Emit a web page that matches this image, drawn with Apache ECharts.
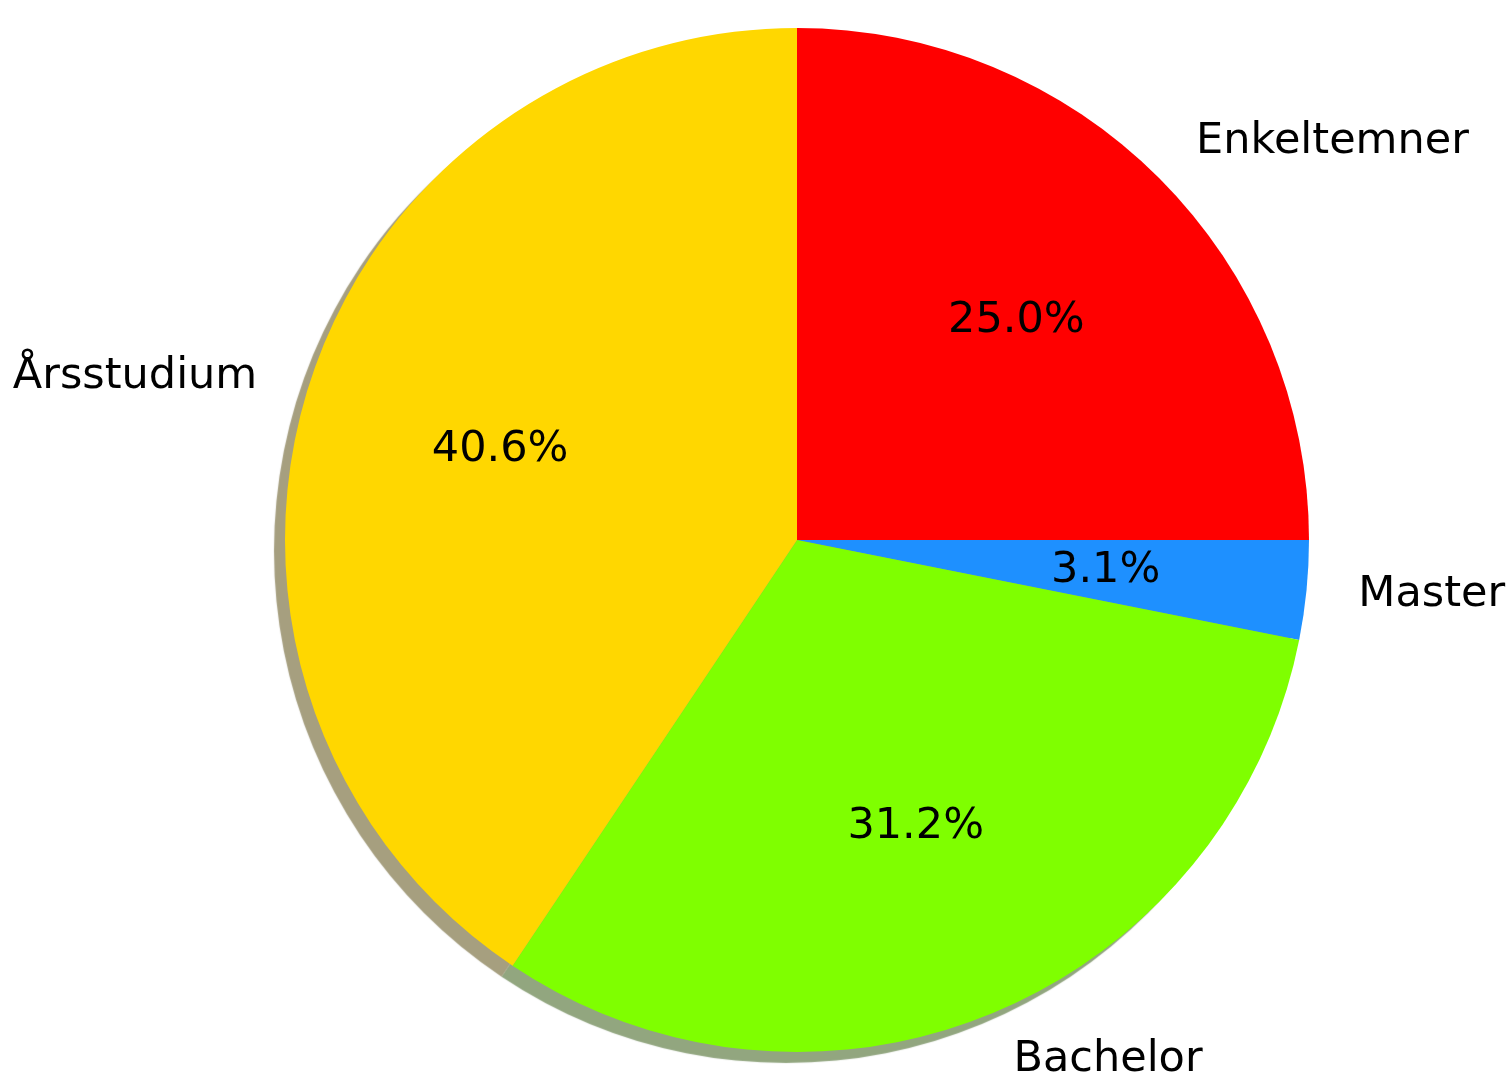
<!DOCTYPE html>
<html>
<head>
<meta charset="utf-8">
<script src="https://cdn.jsdelivr.net/npm/echarts@6/dist/echarts.min.js"></script>
<style>
  html, body { margin: 0; padding: 0; background: #fff; }
  #chart { width: 1511px; height: 1076px; }
</style>
</head>
<body>
<div id="chart"></div>
<script>
// studieform-fordeling
const categories = ['Enkeltemner', 'Master', 'Bachelor', 'Årsstudium']
const counts = [8, 1, 10, 13]
const colors = ['#ff0000', '#1e90ff', '#7fff00', '#ffd700']
// skyggefarge = 0.3 * farge, alpha 0.5 (som matplotlib shadow)
const shadowColors = ['rgba(77,0,0,0.5)', 'rgba(9,43,77,0.5)', 'rgba(38,77,0,0.5)', 'rgba(77,64,0,0.5)']

const R = 512
const CX = 797
const CY = 540

const total = counts.reduce((a, b) => a + b, 0)
// formater som '%1.1f%%'
const pct = v => (Math.floor(v / total * 1000 + 0.5 - 1e-9) / 10).toFixed(1) + '%'

const chart = echarts.init(document.getElementById('chart'))

const option = {
    backgroundColor: '#fff',
    animation: false,
    textStyle: { fontFamily: 'DejaVu Sans' },
    series: [{
        // selve kaka + navn utenfor
        type: 'pie',
        center: [CX, CY],
        radius: R,
        startAngle: 90,
        clockwise: true,
        avoidLabelOverlap: false,
        silent: true,
        data: categories.map((name, i) => ({
            name: name,
            value: counts[i],
            itemStyle: {
                color: colors[i],
                shadowColor: shadowColors[i],
                shadowOffsetX: -11,
                shadowOffsetY: 11,
                shadowBlur: 1
            }
        })),
        itemStyle: { borderWidth: 0 },
        label: {
            show: true,
            position: 'outside',
            formatter: '{b}',
            fontSize: 43,
            color: '#000',
            distanceToLabelLine: 1
        },
        labelLine: { show: false, length: 51, length2: 0 }
    }, {
        // prosenter ved 0.6 r
        type: 'pie',
        center: [CX, CY],
        radius: [R * 0.2, R],
        startAngle: 90,
        clockwise: true,
        silent: true,
        data: categories.map((name, i) => ({ name: name, value: counts[i] })),
        itemStyle: { color: 'rgba(0,0,0,0)', borderWidth: 0 },
        label: {
            show: true,
            position: 'inside',
            formatter: p => pct(p.value),
            fontSize: 43,
            color: '#000'
        },
        labelLine: { show: false }
    }]
}

chart.setOption(option)
</script>
</body>
</html>
